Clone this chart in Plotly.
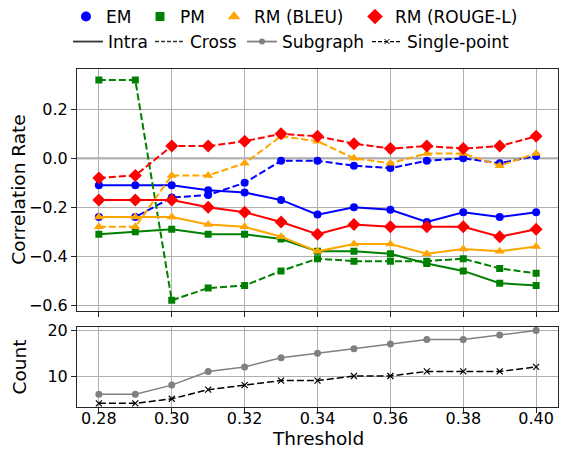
import plotly.graph_objects as go

thresholds = [0.28, 0.29, 0.30, 0.31, 0.32, 0.33, 0.34, 0.35, 0.36, 0.37, 0.38, 0.39, 0.40]

em_intra = [-0.11, -0.11, -0.11, -0.13, -0.14, -0.17, -0.23, -0.20, -0.21, -0.26, -0.22, -0.24, -0.22]
em_cross = [-0.24, -0.24, -0.16, -0.15, -0.10, -0.01, -0.01, -0.03, -0.04, -0.01, 0.00, -0.02, 0.01]
pm_intra = [-0.31, -0.30, -0.29, -0.31, -0.31, -0.33, -0.38, -0.38, -0.39, -0.43, -0.46, -0.51, -0.52]
pm_cross = [0.32, 0.32, -0.58, -0.53, -0.52, -0.46, -0.41, -0.42, -0.42, -0.42, -0.41, -0.45, -0.47]
bleu_intra = [-0.24, -0.24, -0.24, -0.27, -0.28, -0.32, -0.38, -0.35, -0.35, -0.39, -0.37, -0.38, -0.36]
bleu_cross = [-0.28, -0.28, -0.07, -0.07, -0.02, 0.09, 0.07, 0.00, -0.02, 0.02, 0.02, -0.03, 0.02]
rouge_intra = [-0.17, -0.17, -0.17, -0.20, -0.22, -0.26, -0.31, -0.27, -0.28, -0.28, -0.28, -0.32, -0.29]
rouge_cross = [-0.08, -0.07, 0.05, 0.05, 0.07, 0.10, 0.09, 0.06, 0.04, 0.05, 0.04, 0.05, 0.09]

subgraph_count = [6, 6, 8, 11, 12, 14, 15, 16, 17, 18, 18, 19, 20]
single_point_count = [4, 4, 5, 7, 8, 9, 9, 10, 10, 11, 11, 11, 12]

metric_names = ["EM", "PM", "RM (BLEU)", "RM (ROUGE-L)"]
metric_colors = ["#0000ff", "#008000", "#ffa500", "#ff0000"]
metric_symbols = ["circle", "square", "triangle-up", "diamond"]
metric_sizes = [8, 7, 9, 10]
intra_series = [em_intra, pm_intra, bleu_intra, rouge_intra]
cross_series = [em_cross, pm_cross, bleu_cross, rouge_cross]

FONT = "DejaVu Sans"
DASH = "7px,3px"
FIG_W, FIG_H = 565, 450

fig = go.Figure()

for name, col, sym, sz, yi, yc in zip(metric_names, metric_colors, metric_symbols,
                                       metric_sizes, intra_series, cross_series):
    fig.add_trace(go.Scatter(x=thresholds, y=yi, mode="lines+markers", showlegend=False,
                             line=dict(color=col, width=2),
                             marker=dict(symbol=sym, size=sz, color=col),
                             xaxis="x", yaxis="y"))
    fig.add_trace(go.Scatter(x=thresholds, y=yc, mode="lines+markers", showlegend=False,
                             line=dict(color=col, width=2, dash=DASH),
                             marker=dict(symbol=sym, size=sz, color=col),
                             xaxis="x", yaxis="y"))

fig.add_trace(go.Scatter(x=thresholds, y=subgraph_count, mode="lines+markers", showlegend=False,
                         line=dict(color="#808080", width=1.5),
                         marker=dict(symbol="circle", size=7, color="#808080"),
                         xaxis="x2", yaxis="y2"))
fig.add_trace(go.Scatter(x=thresholds, y=single_point_count, mode="lines+markers", showlegend=False,
                         line=dict(color="#000000", width=1.5, dash=DASH),
                         marker=dict(symbol="x-thin", size=6, color="#000000",
                                     line=dict(color="#000000", width=1.2)),
                         xaxis="x2", yaxis="y2"))

L = 77.0
W = 481.0
PH = 338.0
B = 406.7


def px_x(px):
    return (px - L) / W


def px_y(py):
    return (B - py) / PH


def cx(px):
    return px / FIG_W


def cy(py):
    return 1 - py / FIG_H


legend_layouts = {}
row1_starts = [66, 140, 214, 355]
idx = 1
for name, col, sym, sz, xs in zip(metric_names, metric_colors, metric_symbols, metric_sizes, row1_starts):
    lname = "legend" if idx == 1 else f"legend{idx}"
    fig.add_trace(go.Scatter(x=[None], y=[None], mode="markers", name=name,
                             marker=dict(symbol=sym, size=sz + 2, color=col),
                             legend=lname, xaxis="x", yaxis="y"))
    legend_layouts[lname] = dict(x=cx(xs), y=cy(17), xref="container", yref="container",
                                 xanchor="left", yanchor="middle",
                                 font=dict(family=FONT, size=17, color="black"),
                                 bgcolor="rgba(0,0,0,0)", borderwidth=0)
    idx += 1

row2 = [
    ("Intra", dict(color="#333333", width=1.8), None, 68),
    ("Cross", dict(color="#333333", width=1.5, dash="4px,2px"), None, 150),
    ("Subgraph", dict(color="#808080", width=1.8), dict(symbol="circle", size=6, color="#808080"), 242),
    ("Single-point", dict(color="#000000", width=1.2, dash="4px,2px"),
     dict(symbol="x-thin", size=5, color="#000000", line=dict(color="#000000", width=1)), 367),
]
for name, ln, mk, xs in row2:
    lname = f"legend{idx}"
    kw = dict(x=[None], y=[None], name=name, line=ln, legend=lname, xaxis="x", yaxis="y")
    if mk is None:
        kw["mode"] = "lines"
    else:
        kw["mode"] = "lines+markers"
        kw["marker"] = mk
    fig.add_trace(go.Scatter(**kw))
    legend_layouts[lname] = dict(x=cx(xs), y=cy(42), xref="container", yref="container",
                                 xanchor="left", yanchor="middle",
                                 font=dict(family=FONT, size=17, color="black"),
                                 bgcolor="rgba(0,0,0,0)", borderwidth=0)
    idx += 1

axis_common = dict(showline=True, linecolor="#262626", linewidth=1.1, mirror=True,
                   showgrid=True, gridcolor="#b0b0b0", gridwidth=1,
                   ticks="outside", ticklen=5, tickwidth=1, tickcolor="#262626",
                   tickfont=dict(family=FONT, size=16, color="black"), zeroline=False,
                   automargin=False)

top_lo = (B - 311) / PH
bot_hi = (B - 326.7) / PH

fig.update_layout(
    width=FIG_W, height=FIG_H,
    margin=dict(l=77, r=7, t=69, b=43, autoexpand=False),
    paper_bgcolor="white", plot_bgcolor="white",
    font=dict(family=FONT, size=16, color="black"),
    xaxis=dict(domain=[0, 1], anchor="y", range=[0.274, 0.406], tickvals=thresholds[::2],
               showticklabels=False, **axis_common),
    yaxis=dict(domain=[top_lo, 1], anchor="x", range=[-0.625, 0.365],
               tickvals=[-0.6, -0.4, -0.2, 0.0, 0.2], tickformat=".1f", **axis_common),
    xaxis2=dict(domain=[0, 1], anchor="y2", range=[0.274, 0.406], tickvals=thresholds[::2],
                tickformat=".2f", matches="x", ticklabelstandoff=-8, **axis_common),
    yaxis2=dict(domain=[0, bot_hi], anchor="x2", range=[3.2, 20.75], tickvals=[10, 20],
                **axis_common),
    shapes=[dict(type="line", xref="x domain", yref="y", x0=0, x1=1, y0=0, y1=0,
                 line=dict(color="#808080", width=1.8), layer="below")],
    annotations=[
        dict(text="Correlation Rate", xref="paper", yref="paper", x=px_x(18.5), y=(1 + top_lo) / 2,
             textangle=-90, showarrow=False, font=dict(family=FONT, size=18.5, color="black"),
             xanchor="center", yanchor="middle"),
        dict(text="Count", xref="paper", yref="paper", x=px_x(18.5), y=bot_hi / 2,
             textangle=-90, showarrow=False, font=dict(family=FONT, size=18.5, color="black"),
             xanchor="center", yanchor="middle"),
        dict(text="Threshold", xref="paper", yref="paper", x=0.5, y=px_y(438.5),
             showarrow=False, font=dict(family=FONT, size=18.5, color="black"),
             xanchor="center", yanchor="middle"),
    ],
    **legend_layouts,
)

fig.write_html("out.html", config={"displayModeBar": False},
               post_script="document.body.style.margin='0';document.body.style.padding='0';")
